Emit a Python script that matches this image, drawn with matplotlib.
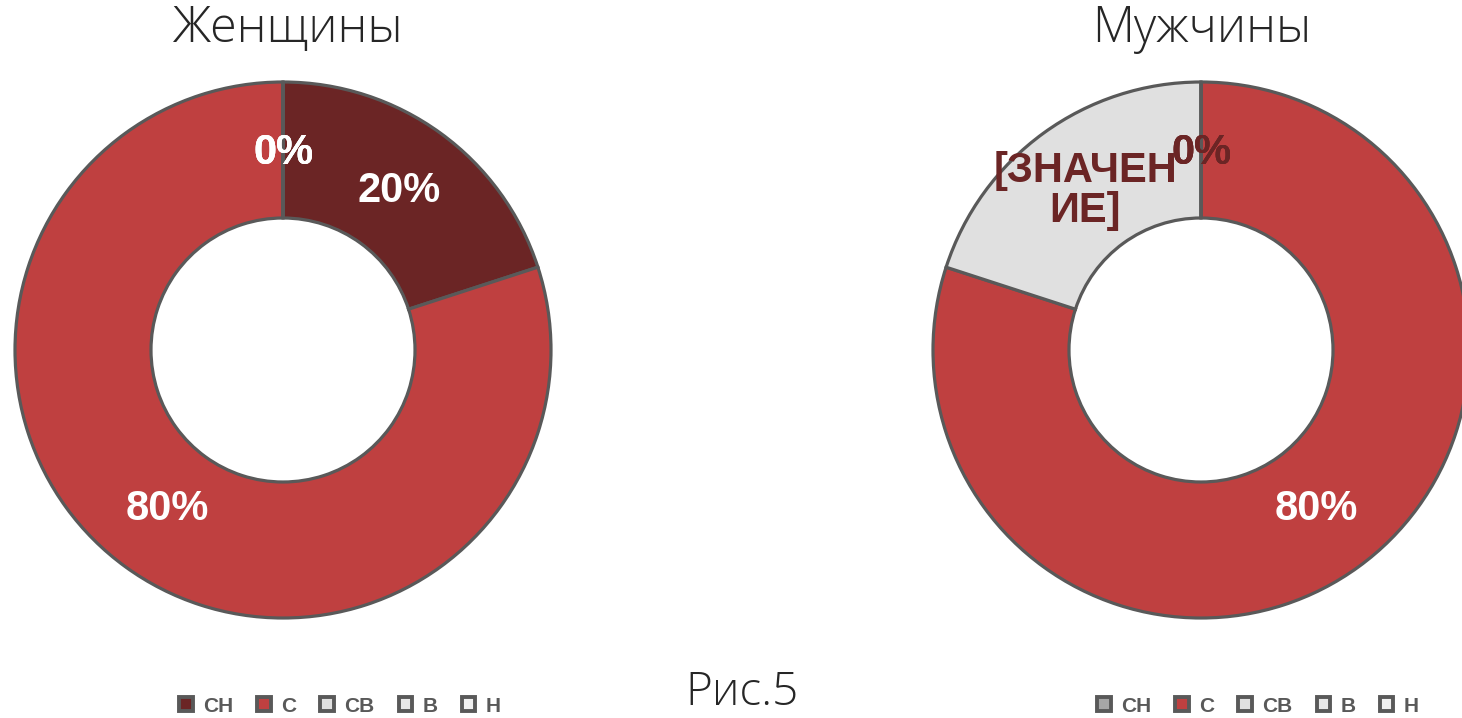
import matplotlib.pyplot as plt
from matplotlib.patches import Patch

# Data
categories = ['СН', 'С', 'СВ', 'В', 'Н']
women_values = [20, 80, 0, 0, 0]
men_values = [0, 80, 20, 0, 0]
women_colors = ['#6B2525', '#BF4040', '#E0E0E0', '#E8E8E8', '#F0F0F0']
men_colors = ['#A6A6A6', '#BF4040', '#E0E0E0', '#E8E8E8', '#F0F0F0']

W, H = 1462, 718
fig = plt.figure(figsize=(W / 100, H / 100), dpi=100)
ax = fig.add_axes([0, 0, 1, 1])

edge = '#595959'
dark = '#6B2525'
title_font = ['Open Sans', 'DejaVu Sans']
label_font = ['Liberation Sans', 'DejaVu Sans']

R = 268
ring = 136


def donut(cx, cy, values, colors):
    wedges, texts, autotexts = ax.pie(
        values, colors=colors, center=(cx, cy), radius=R,
        startangle=90, counterclock=False, autopct='%.0f%%',
        pctdistance=0.735, frame=True,
        wedgeprops=dict(width=ring, edgecolor=edge, linewidth=2.3),
        textprops=dict(fontsize=30, fontweight='bold', color='white',
                       family=label_font))
    return wedges, autotexts


# Women
w1, t1 = donut(283, H - 350, women_values, women_colors)

# Men
w2, t2 = donut(1201, H - 350, men_values, men_colors)
for i, t in enumerate(t2):
    if men_values[i] == 0:
        t.set_color(dark)
t2[2].set_text('[ЗНАЧЕН\nИЕ]')
t2[2].set_color(dark)
t2[2].set_linespacing(1.0)

ax.set_xlim(0, W)
ax.set_ylim(0, H)
ax.set_aspect('equal')
ax.axis('off')

fig.text(287 / W, 1 - 29 / H, 'Женщины', ha='center', va='center',
         fontsize=35, fontweight='light', color='#262626', family=title_font)
fig.text(1202 / W, 1 - 29 / H, 'Мужчины', ha='center', va='center',
         fontsize=35, fontweight='light', color='#262626', family=title_font)
fig.text(742 / W, 1 - 693 / H, 'Рис.5', ha='center', va='center',
         fontsize=33, fontweight='light', color='#262626', family=title_font)


def legend(colors, x):
    handles = [Patch(facecolor=c, edgecolor=edge, linewidth=2.8) for c in colors]
    lg = fig.legend(handles, categories, ncol=5, loc='center',
                    bbox_to_anchor=(x / W, 1 - 706 / H), frameon=False,
                    handlelength=0.65, handleheight=0.65, handletextpad=0.5,
                    columnspacing=1.15, borderpad=0,
                    prop=dict(family=label_font, size=15, weight='bold'))
    for txt in lg.get_texts():
        txt.set_color(edge)
    return lg


legend(women_colors, 340)
legend(men_colors, 1258)

fig.savefig('out.png', dpi=100)
